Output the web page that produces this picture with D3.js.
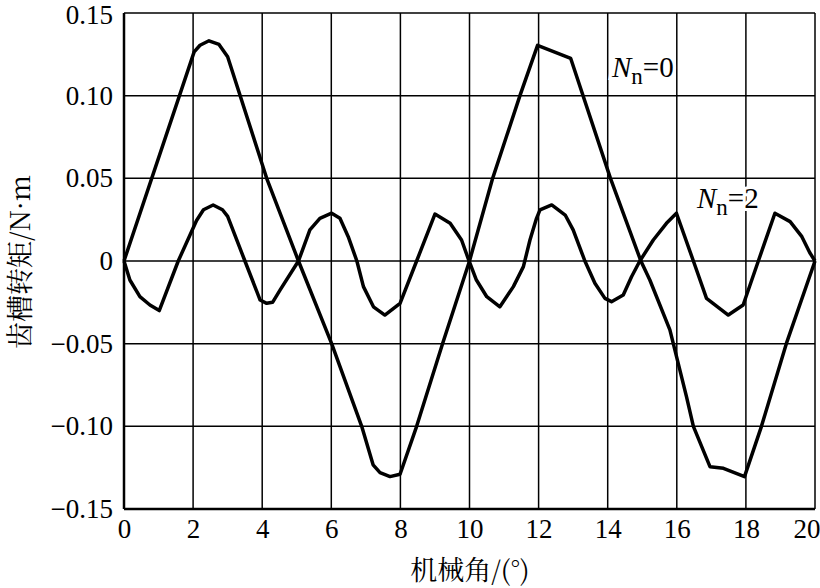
<!DOCTYPE html>
<html><head><meta charset="utf-8">
<script src="https://cdn.jsdelivr.net/npm/d3@7"></script>
<style>
html,body{margin:0;padding:0;background:#fff;}
svg{display:block;}
</style>
</head><body>
<svg id="c" width="820" height="588"></svg>
<script>
// Data (mechanical angle in degrees, cogging torque in N·m)
const xTicks = [0, 2, 4, 6, 8, 10, 12, 14, 16, 18, 20];
const yTicks = [-0.15, -0.10, -0.05, 0, 0.05, 0.10, 0.15];
const yTickLabels = ["\u22120.15", "\u22120.10", "\u22120.05", "0", "0.05", "0.10", "0.15"];

const n0Angle  = [0, 2.03, 2.2, 2.46, 2.75, 3.0, 4.13, 5.05, 6.01, 6.88, 7.21, 7.41, 7.7, 7.99, 8.47, 9.22, 10.0, 10.67, 11.46, 11.97, 12.93, 14.08, 14.96, 15.22, 15.8, 16.28, 16.48, 16.96, 17.35, 17.96, 18.45, 19.17, 20];
const n0Torque = [0, 0.1265, 0.1305, 0.1332, 0.131, 0.1235, 0.05, 0, -0.05, -0.10, -0.1233, -0.128, -0.1304, -0.129, -0.10, -0.05, 0, 0.05, 0.10, 0.1304, 0.1225, 0.05, 0, -0.0115, -0.0417, -0.082, -0.10, -0.1244, -0.1254, -0.1304, -0.10, -0.05, 0];

const n2Angle  = [0, 0.17, 0.46, 0.75, 1.02, 1.57, 2.1, 2.3, 2.58, 2.85, 3.0, 3.5, 3.94, 4.13, 4.3, 4.52, 5.05, 5.38, 5.67, 6.01, 6.25, 6.49, 6.74, 6.93, 7.22, 7.55, 7.99, 8.47, 9.0, 9.44, 9.77, 9.96, 10.2, 10.5, 10.88, 11.27, 11.56, 11.75, 11.94, 12.04, 12.38, 12.77, 13.0, 13.34, 13.63, 13.92, 14.11, 14.45, 14.69, 14.93, 15.32, 15.7, 15.99, 16.48, 16.86, 17.49, 17.92, 18.36, 18.84, 19.28, 19.62, 19.85, 20];
const n2Torque = [0, -0.0115, -0.0216, -0.0266, -0.030, 0, 0.0245, 0.031, 0.0339, 0.031, 0.027, 0, -0.0236, -0.0256, -0.025, -0.0175, 0, 0.0188, 0.0258, 0.0289, 0.0258, 0.0147, 0, -0.0155, -0.0277, -0.0327, -0.0256, 0, 0.0284, 0.0228, 0.0127, 0.0016, -0.0115, -0.0216, -0.0277, -0.0155, -0.0034, 0.0127, 0.0258, 0.0309, 0.0339, 0.0278, 0.0188, 0, -0.0135, -0.0226, -0.0246, -0.0206, -0.0095, 0, 0.0127, 0.0228, 0.0289, 0, -0.0226, -0.0327, -0.0266, 0, 0.0289, 0.0238, 0.0147, 0.005, 0];

const seriesLabels = ["0", "2"];
const xTitle = "机械角/(°)";
const yTitle = "齿槽转矩/N·m";

const svg = d3.select("#c");
const L = 124, R = 815, T = 13, B = 509;
const x = d3.scaleLinear().domain([0, 20]).range([L, R]);
const y = d3.scaleLinear().domain([-0.15, 0.15]).range([B, T]);

const SERIF = '"Liberation Serif"';
const SONG = '"Noto Serif CJK SC"';

// grid
const g = svg.append("g");
g.selectAll("line.v").data(xTicks).join("line")
  .attr("x1", d => x(d)).attr("x2", d => x(d)).attr("y1", T).attr("y2", B)
  .attr("stroke", "#000").attr("stroke-width", 1.5);
g.selectAll("line.h").data(yTicks).join("line")
  .attr("x1", L).attr("x2", R).attr("y1", d => y(d)).attr("y2", d => y(d))
  .attr("stroke", "#000").attr("stroke-width", 1.5);
g.append("line").attr("x1", L).attr("x2", L).attr("y1", T).attr("y2", B).attr("stroke", "#000").attr("stroke-width", 2.5);
g.append("line").attr("x1", L).attr("x2", R).attr("y1", B).attr("y2", B).attr("stroke", "#000").attr("stroke-width", 2.5);

// axes (labels only)
const xAxis = d3.axisBottom(x).tickValues(xTicks).tickSize(0).tickPadding(10).tickFormat(d3.format("d"));
const xa = svg.append("g").attr("transform", `translate(0,${B})`).call(xAxis);
xa.select(".domain").remove();
xa.selectAll("text").style("font-family", SERIF).style("font-size", "27px").attr("fill", "#000")
  .attr("dy", "0.71em");
xa.selectAll("text").filter(d => d === 20).attr("text-anchor", "end").attr("dx", 5);

const yAxis = d3.axisLeft(y).tickValues(yTicks).tickSize(0).tickPadding(11)
  .tickFormat((d, i) => yTickLabels[i]);
const ya = svg.append("g").attr("transform", `translate(${L},0)`).call(yAxis);
ya.select(".domain").remove();
ya.selectAll("text").style("font-family", SERIF).style("font-size", "27px").attr("fill", "#000");
ya.selectAll("text").filter(d => d === 0.15).attr("dy", "0.40em");

// titles
svg.append("text").attr("x", 470).attr("y", 580).attr("text-anchor", "middle")
  .style("font-family", SONG).style("font-size", "27px").attr("fill", "#000").text(xTitle);
svg.append("text").attr("transform", "translate(30,262) rotate(-90)").attr("text-anchor", "middle")
  .style("font-family", SONG).style("font-size", "27px").attr("fill", "#000").text(yTitle);

// curves
const line = d3.line().x(d => x(d[0])).y(d => y(d[1])).curve(d3.curveLinear);
const n0 = n0Angle.map((a, i) => [a, n0Torque[i]]);
const n2 = n2Angle.map((a, i) => [a, n2Torque[i]]);
svg.append("path").datum(n0).attr("d", line).attr("fill", "none").attr("stroke", "#000")
  .attr("stroke-width", 3.5).attr("stroke-linejoin", "round");
svg.append("path").datum(n2).attr("d", line).attr("fill", "none").attr("stroke", "#000")
  .attr("stroke-width", 3.5).attr("stroke-linejoin", "round");

// series labels
function label(xp, yp, val) {
  const t = svg.append("text").attr("x", xp).attr("y", yp)
    .style("font-family", SERIF).style("font-size", "29px").attr("fill", "#000")
    .attr("stroke", "#fff").attr("stroke-width", 6).attr("paint-order", "stroke");
  t.append("tspan").style("font-style", "italic").text("N");
  t.append("tspan").style("font-size", "23px").attr("dy", 7).text("n");
  t.append("tspan").attr("dy", -7).text("=" + val);
}
label(612, 77, seriesLabels[0]);
label(697, 208, seriesLabels[1]);
</script>
</body></html>
